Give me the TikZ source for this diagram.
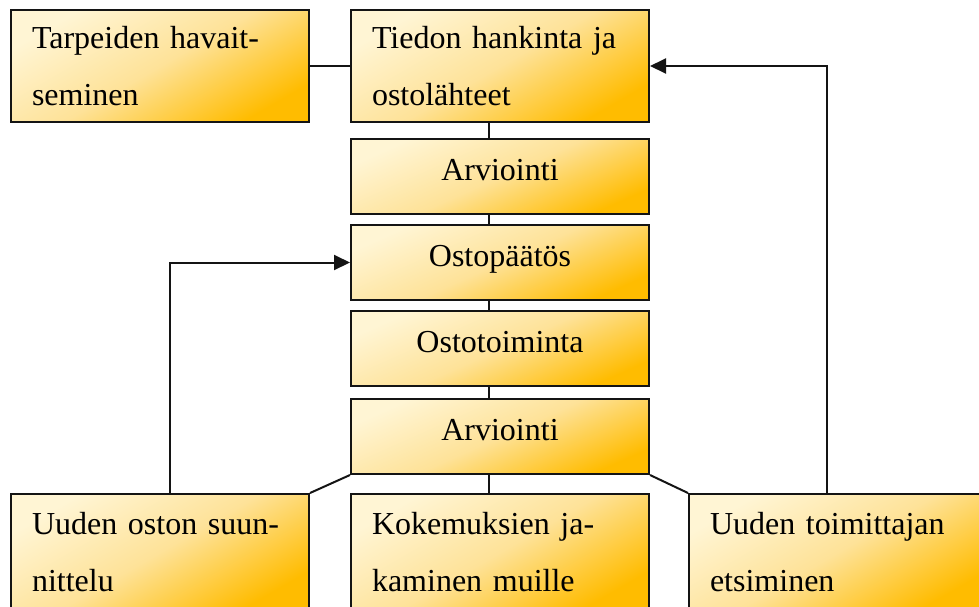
\documentclass[tikz,border=0pt]{standalone}
\usepackage{fontspec}
\setmainfont{Liberation Serif}
\usepackage{tikz}
\usetikzlibrary{arrows.meta,positioning,calc}
\definecolor{stlight}{RGB}{255,245,212}
\definecolor{stmid}{RGB}{254,226,152}
\definecolor{stdark}{RGB}{255,188,0}
\definecolor{stedge}{RGB}{20,20,20}
\tikzset{
  stage/.style={
    draw=stedge, line width=2pt,
    top color=stlight, bottom color=stdark, middle color=stmid,
    minimum width=298pt, inner sep=0pt,
    font=\fontsize{32}{57}\selectfont
  },
  one/.style={stage, shading angle=24, minimum height=75pt, text height=22pt, text depth=14pt, align=center},
  two/.style={stage, shading angle=30, minimum height=112pt, text width=256pt, inner xsep=21pt, align=left},
  ln/.style={draw=stedge, line width=2pt},
  arr/.style={ln, -{Triangle[length=16pt,width=15pt]}}
}
\begin{document}
\begin{tikzpicture}[x=1pt, y=-1pt]
  \useasboundingbox (0,0) rectangle (979,606);
  % top row
  \node[two] (tarp) at (160,66) {Tarpeiden havait-\\seminen};
  \node[two] (tied) at (500,66) {Tiedon hankinta ja\\ostolähteet};
  % main column
  \node[one] (arv1) at (500,176.5) {Arviointi};
  \node[one] (ostop) at (500,262.5) {Ostopäätös};
  \node[one] (ostot) at (500,348.5) {Ostotoiminta};
  \node[one] (arv2) at (500,436.5) {Arviointi};
  % bottom row
  \node[two, minimum height=116pt] (uost) at (160,552) {Uuden oston suun-\\nittelu};
  \node[two, minimum height=116pt] (koke) at (500,552) {Kokemuksien ja-\\kaminen muille};
  \node[two, minimum height=116pt] (toim) at (838,552) {Uuden toimittajan\\etsiminen};
  % connectors
  \draw[ln] (tarp.east) -- (tied.west);
  \draw[ln] ([xshift=-11pt]tied.south) -- ([xshift=-11pt]arv1.north);
  \draw[ln] ([xshift=-11pt]arv1.south) -- ([xshift=-11pt]ostop.north);
  \draw[ln] ([xshift=-11pt]ostop.south) -- ([xshift=-11pt]ostot.north);
  \draw[ln] ([xshift=-11pt]ostot.south) -- ([xshift=-11pt]arv2.north);
  \draw[ln] ([xshift=-11pt]arv2.south) -- ([xshift=-11pt]koke.north);
  \draw[ln] (arv2.south west) -- (uost.north east);
  \draw[ln] (arv2.south east) -- (toim.north west);
  \draw[arr] ([xshift=10pt]uost.north) |- (ostop.west);
  \draw[arr] ([xshift=-11pt]toim.north) |- (tied.east);
\end{tikzpicture}
\end{document}
